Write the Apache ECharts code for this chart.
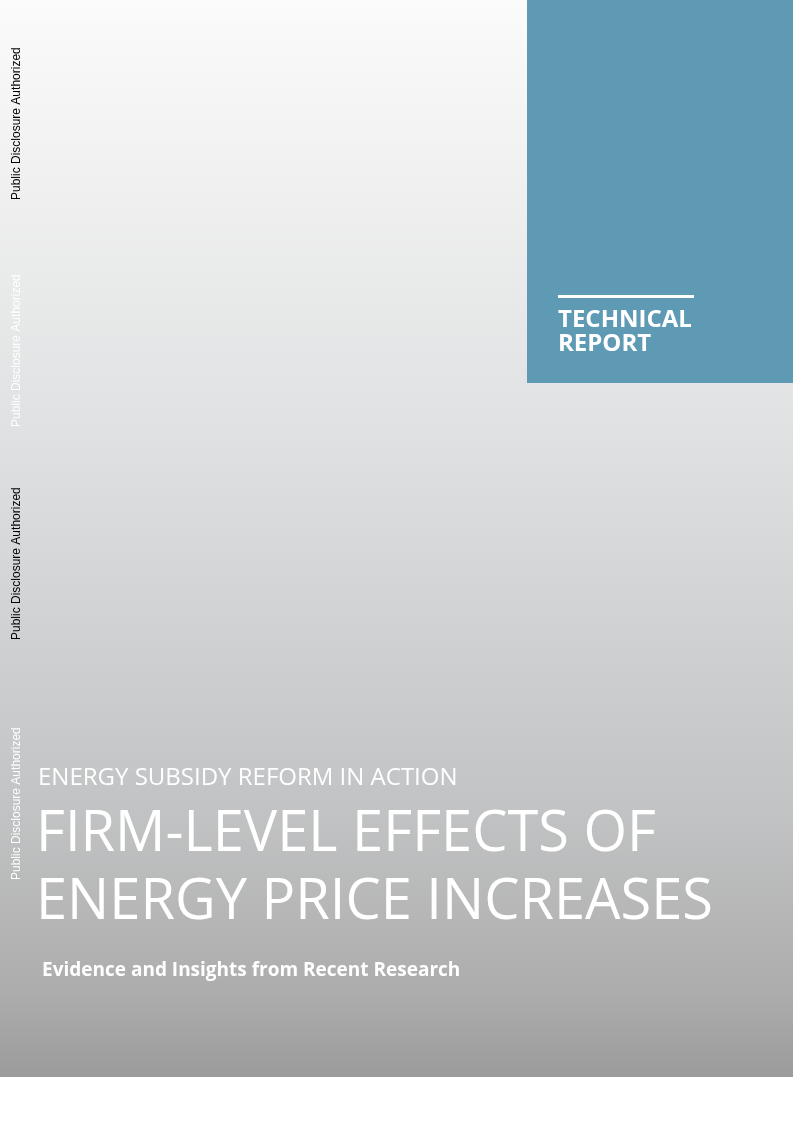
<!DOCTYPE html>
<html><head><meta charset="utf-8">
<script src="https://cdn.jsdelivr.net/npm/echarts@6/dist/echarts.min.js"></script>
<style>html,body{margin:0;padding:0;background:#fff}#c{width:793px;height:1122px}</style>
</head><body><div id="c"></div>
<script>
const sideLabels = ["Public Disclosure Authorized","Public Disclosure Authorized","Public Disclosure Authorized","Public Disclosure Authorized"];
const sideColors = ["#000000","#ffffff","#000000","#ffffff"];
const sideBottoms = [200, 427, 640, 880];
const badgeLines = ["TECHNICAL","REPORT"];
const series = "ENERGY SUBSIDY REFORM IN ACTION";
const titleLines = ["FIRM-LEVEL EFFECTS OF","ENERGY PRICE INCREASES"];
const subtitle = "Evidence and Insights from Recent Research";

const chart = echarts.init(document.getElementById('c'));
const g = [
  {type:'rect', shape:{x:0,y:0,width:793,height:1077},
   style:{fill:new echarts.graphic.LinearGradient(0,0,0,1,[
     {offset:0,color:'#fbfbfb'},{offset:0.4,color:'#e0e1e2'},{offset:0.75,color:'#c2c3c4'},{offset:0.92,color:'#adadad'},{offset:1,color:'#9b9b9b'}])}},
  {type:'rect', shape:{x:527,y:0,width:266,height:383}, style:{fill:'#5f9ab5'}},
  {type:'rect', shape:{x:558,y:295,width:136,height:3}, style:{fill:'#ffffff'}},
];
badgeLines.forEach((t,i)=>g.push({type:'text', x:558, y:320+i*24,
  style:{text:t, fill:'#fff', font:'bold 24px "Open Sans"', textVerticalAlign:'middle'}}));
sideLabels.forEach((t,i)=>g.push({type:'text', x:17, y:sideBottoms[i], rotation:Math.PI/2,
  style:{text:t, fill:sideColors[i], font:'12px "Liberation Sans"', textVerticalAlign:'middle', textAlign:'left'}}));
g.push({type:'text', x:38, y:778, style:{text:series, fill:'#fff', font:'24px "Open Sans"', textVerticalAlign:'middle'}});
titleLines.forEach((t,i)=>g.push({type:'text', x:36, y:835+i*68,
  style:{text:t, fill:'#fff', font:'56px "Open Sans"', textVerticalAlign:'middle'}}));
g.push({type:'text', x:42, y:971, style:{text:subtitle, fill:'#fff', font:'bold 19px "Open Sans"', textVerticalAlign:'middle'}});
chart.setOption({animation:false, graphic:g});
</script></body></html>
